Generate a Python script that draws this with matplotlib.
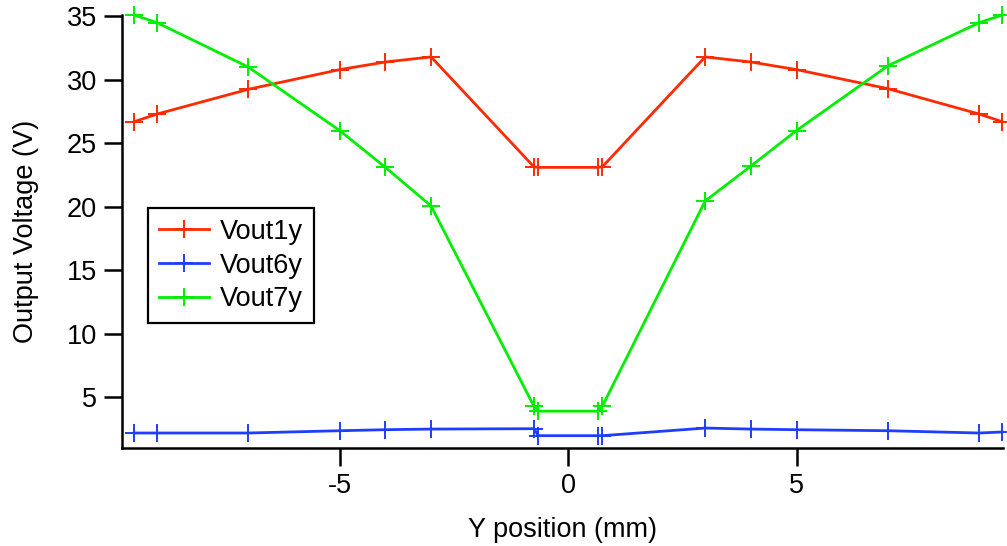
import matplotlib
matplotlib.use("Agg")
import matplotlib.pyplot as plt

# Y position (mm)
y_pos = [-9.5, -9, -7, -5, -4, -3, -0.75, -0.65, 0.65, 0.75, 3, 4, 5, 7, 9, 9.5]

# Output voltages (V)
vout1y = [26.7, 27.3, 29.25, 30.8, 31.4, 31.8, 23.15, 23.1,
          23.1, 23.15, 31.8, 31.4, 30.8, 29.3, 27.3, 26.7]
vout6y = [2.18, 2.18, 2.18, 2.36, 2.44, 2.49, 2.52, 1.97,
          1.97, 1.97, 2.57, 2.49, 2.44, 2.36, 2.18, 2.26]
vout7y = [35.1, 34.5, 31.0, 26.0, 23.1, 20.06, 4.3, 3.9,
          3.9, 4.3, 20.45, 23.2, 26.0, 31.1, 34.5, 35.1]

series = [
    ("Vout1y", vout1y, "#ff2a00"),
    ("Vout6y", vout6y, "#1f3dff"),
    ("Vout7y", vout7y, "#00ee00"),
]

plt.rcParams["font.family"] = ["Liberation Sans", "DejaVu Sans"]
plt.rcParams["axes.unicode_minus"] = False

fig = plt.figure(figsize=(10.07, 5.46), dpi=100)
ax = fig.add_axes([0.121, 0.1795, 0.875, 0.793])

for name, vals, color in series:
    ax.plot(y_pos, vals, color=color, lw=2.0, marker="+", ms=13, mew=1.4,
            label=name, clip_on=False)

ax.set_xlim(-9.77, 9.52)
ax.set_ylim(1.0, 35.1)
ax.set_xticks([-5, 0, 5])
ax.set_yticks([5, 10, 15, 20, 25, 30, 35])

for side in ("top", "right"):
    ax.spines[side].set_visible(False)
for side in ("left", "bottom"):
    ax.spines[side].set_linewidth(1.8)

ax.tick_params(direction="out", length=13, width=1.8, labelsize=19.5, pad=5)
ax.set_xlabel("Y position (mm)", fontsize=19.5, labelpad=13)
ax.set_ylabel("Output Voltage (V)", fontsize=19.5, labelpad=20)

leg = ax.legend(loc="upper left", bbox_to_anchor=(0.0295, 0.554), fontsize=19.5,
                fancybox=False, edgecolor="black", framealpha=1,
                handlelength=1.85, handletextpad=0.4, borderpad=0.4,
                labelspacing=0.28, borderaxespad=0)
leg.get_frame().set_linewidth(1.6)

fig.savefig("out.png", dpi=100)
